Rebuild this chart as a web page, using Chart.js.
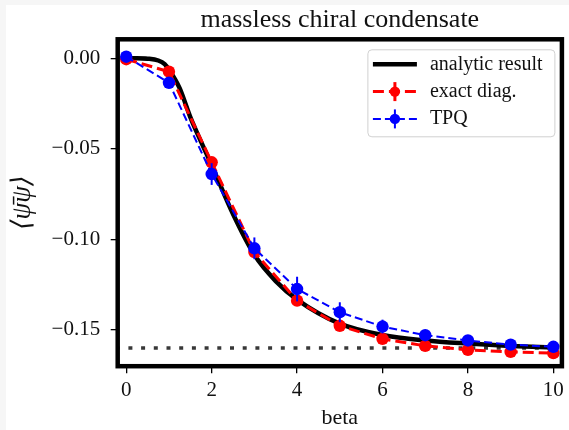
<!DOCTYPE html>
<html>
<head>
<meta charset="utf-8">
<script src="https://cdn.jsdelivr.net/npm/chart.js@4/dist/chart.umd.min.js"></script>
<style>
  html, body { margin: 0; padding: 0; background: #f6f6f6; }
  #wrap { position: absolute; left: 6px; top: 5px; width: 563px; height: 425px; background: #ffffff; }
  canvas { display: block; }
</style>
</head>
<body>
<div id="wrap"><canvas id="c" width="563" height="425"></canvas></div>
<script>
// ---------------- data ----------------
const betas = [0, 1, 2, 3, 4, 5, 6, 7, 8, 9, 10];
const exactDiag = [-0.0005, -0.0074, -0.0574, -0.1070, -0.1338, -0.1477, -0.1549, -0.1588, -0.1610, -0.1621, -0.1628];
const exactDiagErr = [0, 0, 0, 0, 0, 0, 0, 0, 0, 0, 0];
const tpq = [0.0009, -0.0135, -0.0639, -0.1049, -0.1274, -0.1402, -0.1481, -0.1529, -0.1558, -0.1581, -0.1593];
const tpqErr = [0.0005, 0.003, 0.006, 0.006, 0.0068, 0.0055, 0.0038, 0.003, 0.0025, 0.002, 0.002];
const analyticBeta = [0, 0.25, 0.5, 0.75, 0.9, 1.0, 1.25, 1.5, 1.75, 2.0, 2.5, 3.0, 3.5, 4, 5, 6, 7, 8, 9, 10];
const analytic = [0, 0, -0.0002, -0.0012, -0.0032, -0.0062, -0.0165, -0.0325, -0.046, -0.059, -0.086, -0.1085, -0.1230, -0.1332, -0.1465, -0.1528, -0.1558, -0.1575, -0.1588, -0.1597];
const referenceLevel = -0.16;
const seriesNames = ['analytic result', 'exact diag.', 'TPQ'];
const xTickValues = [0, 2, 4, 6, 8, 10];
const xTickLabels = ['0', '2', '4', '6', '8', '10'];
const yTickValues = [0, -0.05, -0.10, -0.15];
const yTickLabels = ['0.00', '\u22120.05', '\u22120.10', '\u22120.15'];
const titleText = 'massless chiral condensate';
const xTitle = 'beta';
const yTitle = '\u27E8\u03C8\u0304\u03C8\u27E9';
const xLimits = [-0.2, 10.2];
const yLimits = [-0.17, 0.0105];

// ---------------- helpers ----------------
const SERIF = "'Liberation Serif', 'DejaVu Serif', serif";
const pts = (xs, ys) => xs.map((x, i) => ({ x: x, y: ys[i] }));
// dataset index -> error array
const errors = { 0: tpqErr, 1: exactDiagErr };

const errorBarPlugin = {
  id: 'errorBars',
  beforeDatasetDraw(chart, args) {
    const errs = errors[args.index];
    if (!errs) return;
    const ds = chart.data.datasets[args.index];
    const xs = chart.scales.x, ys = chart.scales.y;
    const ctx = chart.ctx;
    ctx.save();
    ctx.strokeStyle = ds.borderColor;
    ctx.lineWidth = ds.errorWidth;
    ctx.setLineDash([]);
    ds.data.forEach((p, i) => {
      const e = errs[i];
      if (!e) return;
      const px = xs.getPixelForValue(p.x);
      ctx.beginPath();
      ctx.moveTo(px, ys.getPixelForValue(p.y - e));
      ctx.lineTo(px, ys.getPixelForValue(p.y + e));
      ctx.stroke();
    });
    ctx.restore();
  }
};

const framePlugin = {
  id: 'frame',
  afterDatasetsDraw(chart) {
    const a = chart.chartArea, ctx = chart.ctx;
    ctx.save();
    ctx.strokeStyle = '#000';
    ctx.lineWidth = 4.5;
    ctx.setLineDash([]);
    ctx.strokeRect(a.left, a.top, a.right - a.left, a.bottom - a.top);
    ctx.restore();
  }
};

const legendPlugin = {
  id: 'mplLegend',
  afterDraw(chart) {
    const ctx = chart.ctx, a = chart.chartArea;
    const bw = 187, bh = 87;
    const bx = a.right - 7 - bw, by = a.top + 10.5;
    ctx.save();
    const r = 4;
    ctx.beginPath();
    ctx.moveTo(bx + r, by);
    ctx.arcTo(bx + bw, by, bx + bw, by + bh, r);
    ctx.arcTo(bx + bw, by + bh, bx, by + bh, r);
    ctx.arcTo(bx, by + bh, bx, by, r);
    ctx.arcTo(bx, by, bx + bw, by, r);
    ctx.closePath();
    ctx.fillStyle = 'rgba(255,255,255,0.85)';
    ctx.fill();
    ctx.strokeStyle = '#d0d0d0';
    ctx.lineWidth = 1;
    ctx.stroke();
    const order = [2, 1, 0];
    const x0 = bx + 5, x1 = bx + 49, xm = (x0 + x1) / 2;
    order.forEach((di, k) => {
      const ds = chart.data.datasets[di];
      const cy = by + 14.5 + k * 27.3;
      ctx.strokeStyle = ds.borderColor;
      ctx.lineWidth = ds.borderWidth;
      ctx.setLineDash(ds.borderDash || []);
      ctx.beginPath();
      ctx.moveTo(x0, cy);
      ctx.lineTo(x1, cy);
      ctx.stroke();
      ctx.setLineDash([]);
      if (ds.pointRadius > 0) {
        ctx.lineWidth = ds.errorWidth;
        ctx.beginPath();
        ctx.moveTo(xm, cy - 9.5);
        ctx.lineTo(xm, cy + 9.5);
        ctx.stroke();
        ctx.fillStyle = ds.pointBackgroundColor;
        ctx.beginPath();
        ctx.arc(xm, cy, 5.2, 0, Math.PI * 2);
        ctx.fill();
      }
      ctx.fillStyle = '#111';
      ctx.font = '20px ' + SERIF;
      ctx.textBaseline = 'middle';
      ctx.textAlign = 'left';
      ctx.fillText(ds.label, bx + 62, cy);
    });
    ctx.restore();
  }
};

Chart.defaults.color = '#111';
Chart.defaults.font.family = SERIF;

new Chart(document.getElementById('c'), {
  type: 'scatter',
  data: {
    datasets: [
      {
        label: seriesNames[2],
        data: pts(betas, tpq),
        showLine: true,
        borderColor: '#0000ff',
        backgroundColor: '#0000ff',
        pointBackgroundColor: '#0000ff',
        pointBorderWidth: 0,
        borderWidth: 2,
        errorWidth: 2,
        borderDash: [8, 4],
        pointRadius: 6.2,
        order: 0
      },
      {
        label: seriesNames[1],
        data: pts(betas, exactDiag),
        showLine: true,
        borderColor: '#ff0000',
        backgroundColor: '#ff0000',
        pointBackgroundColor: '#ff0000',
        pointBorderWidth: 0,
        borderWidth: 3,
        errorWidth: 3,
        borderDash: [11, 5],
        pointRadius: 6.2,
        order: 1
      },
      {
        label: seriesNames[0],
        data: pts(analyticBeta, analytic),
        showLine: true,
        borderColor: '#000000',
        backgroundColor: '#000000',
        borderWidth: 4.5,
        pointRadius: 0,
        cubicInterpolationMode: 'monotone',
        order: 2
      },
      {
        label: 'reference',
        data: pts(xLimits, [referenceLevel, referenceLevel]),
        showLine: true,
        borderColor: '#383838',
        borderWidth: 3.5,
        borderDash: [4, 8.7],
        borderDashOffset: 2,
        borderCapStyle: 'butt',
        pointRadius: 0,
        order: 3
      }
    ]
  },
  options: {
    responsive: false,
    animation: false,
    devicePixelRatio: 1,
    layout: { padding: { top: 0, right: 4.7, bottom: 0, left: 0 } },
    plugins: {
      legend: { display: false },
      tooltip: { enabled: false },
      title: {
        display: true,
        text: titleText,
        fullSize: false,
        color: '#111',
        font: { family: SERIF, size: 26, weight: 'normal', lineHeight: 1 },
        padding: { top: 2, bottom: 6.3 }
      }
    },
    scales: {
      x: {
        type: 'linear',
        min: xLimits[0],
        max: xLimits[1],
        afterBuildTicks: s => { s.ticks = xTickValues.map(v => ({ value: v })); },
        afterFit: s => { s.height = 63.8; },
        ticks: {
          autoSkip: false, maxRotation: 0, color: '#111', padding: 5,
          font: { family: SERIF, size: 21 },
          callback: v => xTickLabels[xTickValues.indexOf(v)]
        },
        grid: { drawOnChartArea: false, drawTicks: true, tickLength: 7, color: '#000', lineWidth: 1.3 },
        border: { display: false },
        title: {
          display: true, text: xTitle, color: '#111',
          font: { family: SERIF, size: 22, lineHeight: 1 },
          padding: { top: 0, bottom: 1 }
        }
      },
      y: {
        type: 'linear',
        min: yLimits[0],
        max: yLimits[1],
        afterBuildTicks: s => { s.ticks = yTickValues.map(v => ({ value: v })); },
        afterFit: s => { s.width = 111.7; },
        ticks: {
          autoSkip: false, color: '#111', padding: 10.5,
          font: { family: SERIF, size: 21 },
          callback: (v, i) => yTickLabels[i]
        },
        grid: { drawOnChartArea: false, drawTicks: true, tickLength: 7, color: '#000', lineWidth: 1.3 },
        border: { display: false },
        title: {
          display: true, text: yTitle, color: '#111',
          font: { family: SERIF, size: 27, style: 'italic', lineHeight: 1 },
          padding: { top: 3 }
        }
      }
    }
  },
  plugins: [errorBarPlugin, framePlugin, legendPlugin]
});
</script>
</body>
</html>
